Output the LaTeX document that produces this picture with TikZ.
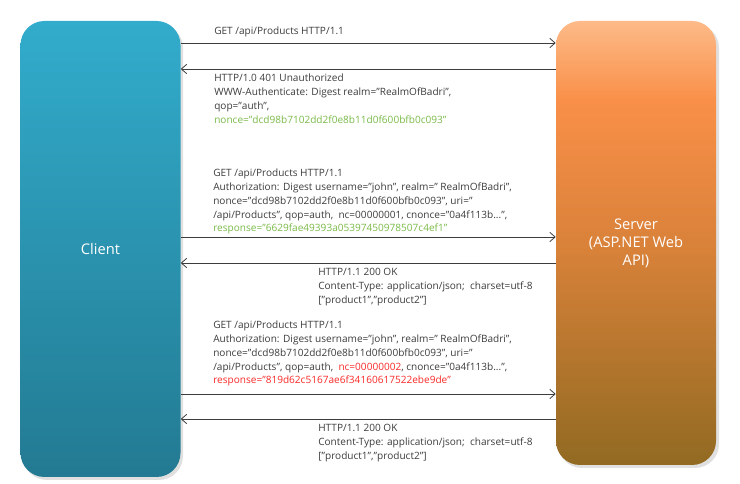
\documentclass[tikz,border=0pt]{standalone}
\usepackage{fontspec}
\setmainfont{Open Sans}
\usetikzlibrary{arrows.meta}

\definecolor{msggray}{RGB}{60,60,60}
\definecolor{noncegreen}{RGB}{122,186,72}
\definecolor{ncred}{RGB}{250,40,40}
\definecolor{clienttop}{RGB}{50,172,204}
\definecolor{clientbot}{RGB}{35,122,146}
\definecolor{servertop}{RGB}{253,186,136}
\definecolor{serverorange}{RGB}{249,143,72}
\definecolor{servermid}{RGB}{218,130,58}
\definecolor{serverbot}{RGB}{146,106,34}
\pgfdeclareverticalshading{clientfill}{100bp}{color(0bp)=(clientbot); color(25bp)=(clientbot); color(75bp)=(clienttop); color(100bp)=(clienttop)}
\pgfdeclareverticalshading{serverfill}{100bp}{color(0bp)=(serverbot); color(25bp)=(serverbot); color(50bp)=(servermid); color(66bp)=(serverorange); color(75bp)=(servertop); color(100bp)=(servertop)}

\tikzset{
  party/.style={rounded corners=18pt, inner sep=0pt, text=white, font=\fontsize{11}{13.5}\selectfont, align=center},
  msg/.style={draw=msggray, line width=0.6pt, -{Straight Barb[length=4pt,width=7pt,line width=0.6pt]}},
  msgtext/.style={anchor=north west, inner sep=0pt, text=msggray, align=left, font=\fontsize{7.55}{10.3}\selectfont}
}

\begin{document}
\begin{tikzpicture}[x=0.75pt,y=0.75pt,yscale=-1]
\useasboundingbox (0,0) rectangle (740,484);

% Parties
\fill [black!12, rounded corners=18pt] (23,24) rectangle (183,480);
\node [party, shading=clientfill, minimum width=120pt, minimum height=342pt] (client) at (100.5,249) {Client};
\fill [black!12, rounded corners=18pt] (558,24) rectangle (719,468);
\node [party, shading=serverfill, minimum width=120pt, minimum height=333pt] (server) at (636,243) {Server\\(ASP.NET Web\\API)};

% Messages
\draw [msg] (client.east |- 0,43) -- (server.west |- 0,43);
\draw [msg] (server.west |- 0,69) -- (client.east |- 0,69);
\draw [msg] (client.east |- 0,237) -- (server.west |- 0,237);
\draw [msg] (server.west |- 0,263) -- (client.east |- 0,263);
\draw [msg] (client.east |- 0,394) -- (server.west |- 0,394);
\draw [msg] (server.west |- 0,419) -- (client.east |- 0,419);

% Text Node
\node [msgtext] (req1) at (214,27) {GET /api/Products HTTP/1.1};
% Text Node
\node [msgtext] (resp1) at (214,74) {HTTP/1.0 401 Unauthorized\\WWW-Authenticate: Digest realm="RealmOfBadri",\\qop="auth",\\\textcolor{noncegreen}{nonce="dcd98b7102dd2f0e8b11d0f600bfb0c093"}};
% Text Node
\node [msgtext] (req2) at (213,169) {GET /api/Products HTTP/1.1\\Authorization: Digest username="john", realm=" RealmOfBadri",\\nonce="dcd98b7102dd2f0e8b11d0f600bfb0c093", uri="\\/api/Products", qop=auth,\ \ nc=00000001, cnonce="0a4f113b...",\\\textcolor{noncegreen}{response="6629fae49393a05397450978507c4ef1"}};
% Text Node
\node [msgtext] (resp2) at (318,268) {HTTP/1.1 200 OK\\Content-Type: application/json;\ \ charset=utf-8\\{[}"product1","product2"{]}};
% Text Node
\node [msgtext] (req3) at (213,321) {GET /api/Products HTTP/1.1\\Authorization: Digest username="john", realm=" RealmOfBadri",\\nonce="dcd98b7102dd2f0e8b11d0f600bfb0c093", uri="\\/api/Products", qop=auth,\ \ \textcolor{ncred}{nc=00000002}, cnonce="0a4f113b...",\\\textcolor{ncred}{response="819d62c5167ae6f34160617522ebe9de"}};
% Text Node
\node [msgtext] (resp3) at (318,424) {HTTP/1.1 200 OK\\Content-Type: application/json;\ \ charset=utf-8\\{[}"product1","product2"{]}};

\end{tikzpicture}
\end{document}
